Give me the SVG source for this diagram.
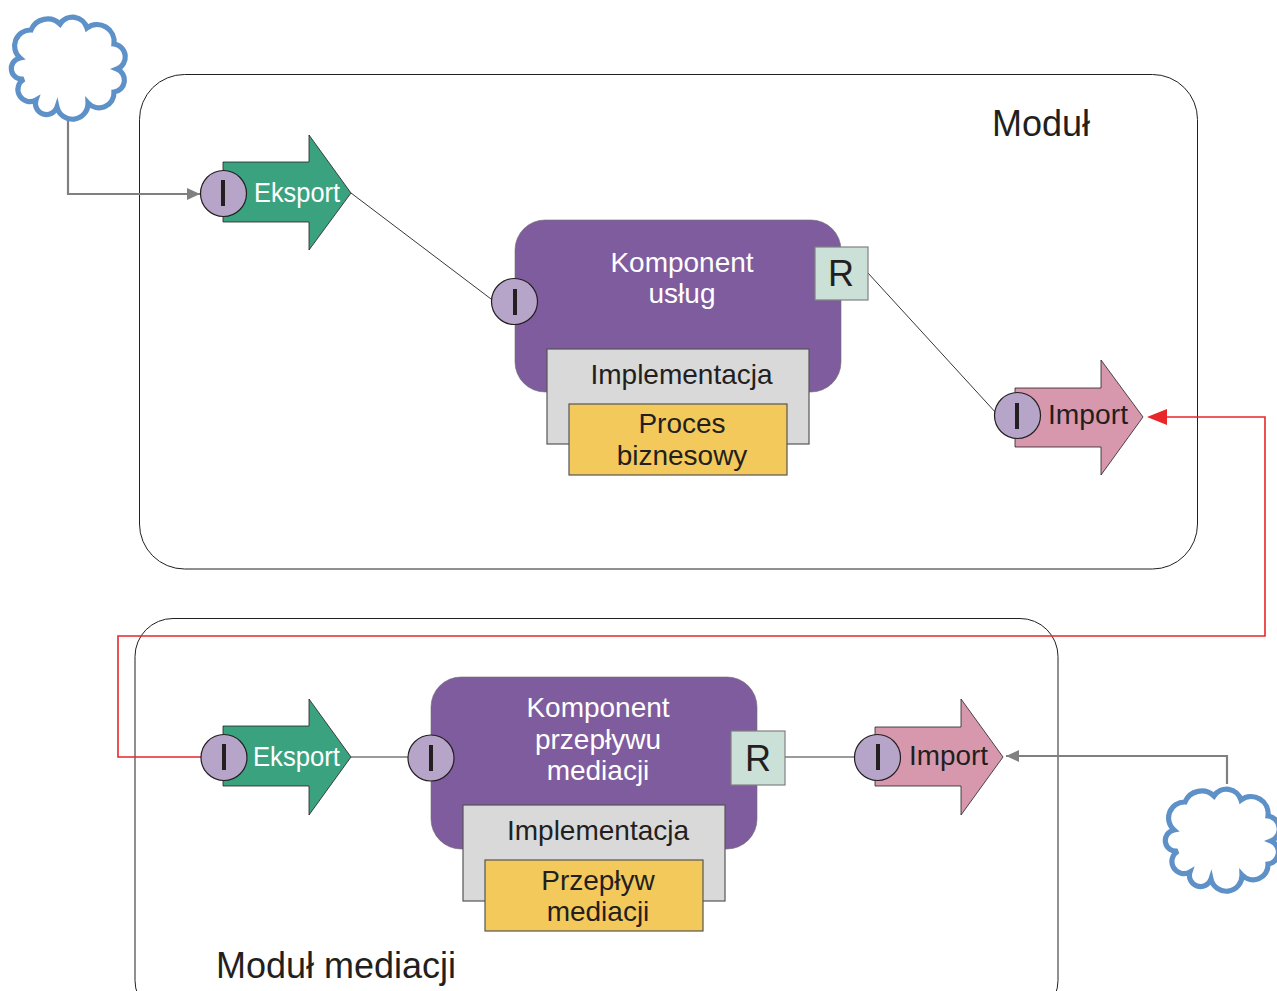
<svg xmlns="http://www.w3.org/2000/svg" width="1277" height="991" viewBox="0 0 1277 991">
<style>
text{font-family:"Liberation Sans",Arial,sans-serif;font-size:28px;fill:#231f20;text-anchor:middle}
text.w{fill:#fff}
text.big{font-size:36px}
.mod{fill:#fff;stroke:#231f20;stroke-width:1}
.cloud{fill:#fff;stroke:#5f91c9;stroke-width:5.2;stroke-linejoin:miter}
.exp{fill:#3ba280;stroke:#231f20;stroke-width:.8}
.imp{fill:#d798ae;stroke:#231f20;stroke-width:.8}
.comp{fill:#7f5c9e;stroke:#6f6f6f;stroke-width:.6}
.i{fill:#b7a5c9;stroke:#231f20;stroke-width:1.2}
.r{fill:#cbe0d6;stroke:#808080;stroke-width:1.2}
.impl{fill:#d9d9d9;stroke:#555;stroke-width:1.2}
.yel{fill:#f4c95c;stroke:#555;stroke-width:1.2}
.bar{stroke:#231f20;stroke-width:4}
.line{fill:none;stroke:#231f20;stroke-width:.9}
.gray{fill:none;stroke:#808080;stroke-width:2.2}
.red{fill:none;stroke:#e8262a;stroke-width:1.6}
</style>
<defs>
<marker id="ag" markerUnits="userSpaceOnUse" markerWidth="14" markerHeight="12" refX="13" refY="6" orient="auto"><path d="M0,0L13,6L0,12z" fill="#808080"/></marker>
<path id="c" d="M60,24A15,15 0 0 1 87,28A17,17 0 0 1 114,44A13,13 0 0 1 117,69A12,12 0 0 1 114,92A15,15 0 0 1 88,103A15.700,15.700 0 0 1 57,107A11,11 0 0 1 36,100A12,12 0 0 1 24,79A10.500,10.500 0 0 1 20,58A16,16 0 0 1 31,30A18,18 0 0 1 60,24Z"/>
</defs>
<g id="module-top"><rect class="mod" x="139.500" y="74.500" width="1058" height="494.500" rx="45" ry="45"/><text class="big" x="1041" y="136">Moduł</text></g>
<g id="module-bottom"><rect class="mod" x="135" y="618.500" width="923" height="400" rx="38" ry="38"/><text class="big" x="336" y="978">Moduł mediacji</text></g>
<g id="connectors">
<path class="gray" d="M68,119V194H200" marker-end="url(#ag)"/>
<path class="line" d="M351,193L495,302"/>
<path class="line" d="M868,273L997,414"/>
<path class="red" d="M1160,417H1265V636H118V757H202"/>
<path d="M1147,417L1167,409V425z" fill="#e8262a"/>
<path class="line" d="M351,757H408"/>
<path class="line" d="M785,757H855"/>
<path class="gray" d="M1227,784V756H1006" marker-end="url(#ag)"/>
</g>
<g id="cloud-top"><use href="#c" class="cloud"/></g>
<g id="cloud-bottom"><use href="#c" class="cloud" x="1154" y="772"/></g>
<g id="export-top"><path class="exp" d="M223,162H309V135L351,193L309,250V222H223z"/><circle class="i" cx="223.500" cy="193.500" r="23"/><path class="bar" d="M223,180V206"/><text class="w" x="297" y="202" style="font-size:27px" textLength="86" lengthAdjust="spacingAndGlyphs">Eksport</text></g>
<g id="component-top"><rect class="comp" x="515" y="220" width="326" height="172" rx="30" ry="30"/><text class="w" x="682" y="272">Komponent</text><text class="w" x="682" y="303">usług</text>
<circle class="i" cx="514.500" cy="301.500" r="23"/><path class="bar" d="M515,289V315"/><rect class="r" x="815" y="247" width="53" height="53"/><text x="841" y="286" style="font-size:36px">R</text></g>
<g id="impl-top"><rect class="impl" x="547" y="349" width="262" height="95"/><text x="681.500" y="384">Implementacja</text></g>
<g id="proces"><rect class="yel" x="569" y="404" width="218" height="71"/><text x="682" y="433">Proces</text><text x="682" y="465">biznesowy</text></g>
<g id="import-top"><path class="imp" d="M1015,388H1101V360L1143,417L1101,475V447H1015z"/><circle class="i" cx="1017.500" cy="415.500" r="23"/><path class="bar" d="M1017,403V429"/><text x="1088" y="424" style="font-size:27px" textLength="80" lengthAdjust="spacingAndGlyphs">Import</text></g>
<g id="export-bottom"><path class="exp" d="M223,726H309V699L351,757L309,815V786H223z"/><circle class="i" cx="224" cy="757.500" r="23"/><path class="bar" d="M224,744V770"/><text class="w" x="296.500" y="766" style="font-size:27px" textLength="87" lengthAdjust="spacingAndGlyphs">Eksport</text></g>
<g id="component-bottom"><rect class="comp" x="431" y="677" width="326" height="172" rx="30" ry="30"/><text class="w" x="598" y="717">Komponent</text><text class="w" x="598" y="749">przepływu</text><text class="w" x="598" y="780">mediacji</text>
<circle class="i" cx="431" cy="758" r="23"/><path class="bar" d="M431,745V771"/><rect class="r" x="731" y="731" width="54" height="54"/><text x="758" y="771" style="font-size:36px">R</text></g>
<g id="impl-bottom"><rect class="impl" x="463" y="805" width="262" height="96"/><text x="598" y="840">Implementacja</text></g>
<g id="przeplyw"><rect class="yel" x="485" y="860" width="218" height="71"/><text x="598" y="890">Przepływ</text><text x="598" y="921">mediacji</text></g>
<g id="import-bottom"><path class="imp" d="M875,727H961V699L1003,757L961,815V786H875z"/><circle class="i" cx="877.500" cy="757.500" r="23"/><path class="bar" d="M878,744V770"/><text x="948.500" y="765" style="font-size:27px" textLength="79" lengthAdjust="spacingAndGlyphs">Import</text></g>
</svg>
